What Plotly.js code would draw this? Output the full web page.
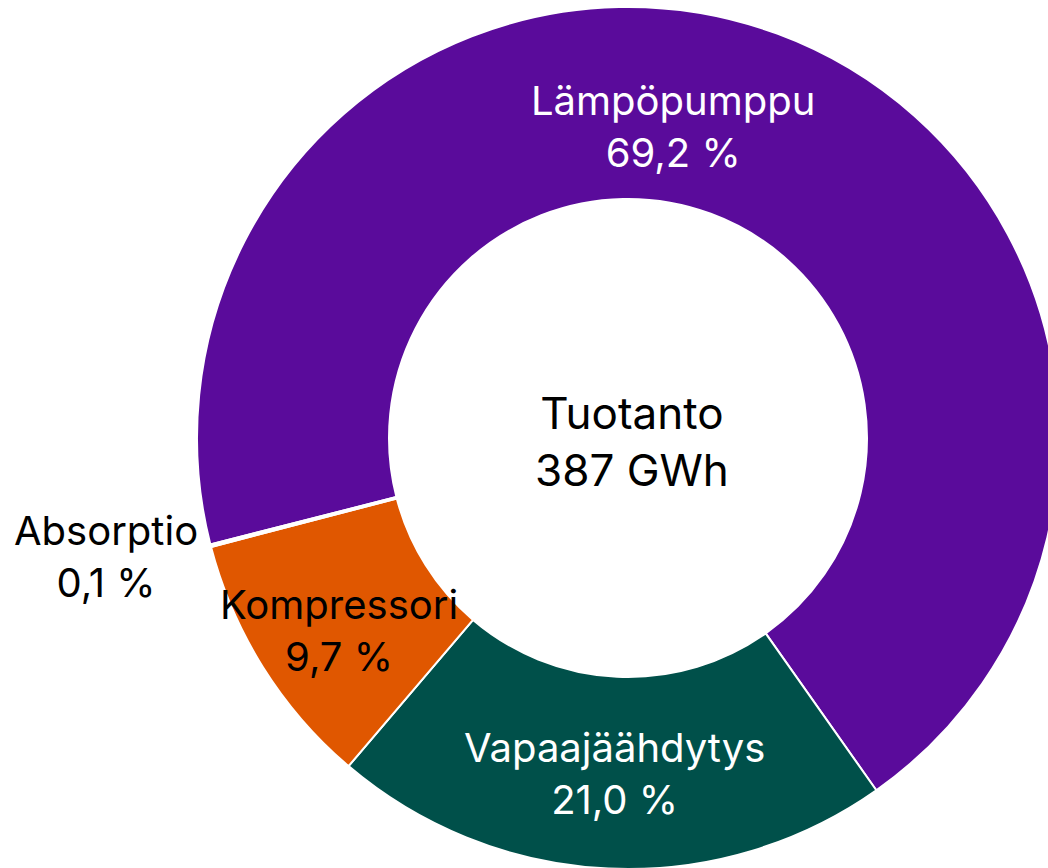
<!DOCTYPE html>
<html>
<head>
<meta charset="utf-8">
<script src="https://cdn.plot.ly/plotly-3.0.1.min.js"></script>
<style>
  html, body { margin: 0; padding: 0; width: 1048px; height: 868px; overflow: hidden; background: #ffffff; }
  #chart { position: absolute; left: 0; top: 7px; width: 1256px; height: 862px; }
</style>
</head>
<body>
<div id="chart"></div>
<script>
// ---- data ----
const categories = ['Lämpöpumppu', 'Vapaajäähdytys', 'Kompressori', 'Absorptio'];
const shares = [69.2, 21.0, 9.7, 0.1];
const centerTitle = 'Tuotanto';
const totalGWh = 387;

// ---- style ----
const colors = ['#5a0b9b', '#00504a', '#e05700', '#ffffff'];
const labelColors = ['#ffffff', '#ffffff', '#000000', '#000000'];
const fontFamily = 'Inter, "Noto Sans", sans-serif';
const fontSize = 40;
const centerFontSize = 44;
const W = 1256, H = 862, HOLE = 0.5545, ROT = 255.7;
// label placement: radius (px) and angle tweak (deg) relative to slice mid-angle
const labelRadius = [315, 336, 347, 535];
const labelAngleShift = [-12.1, -0.4, -1.5, 1.7];

function fmtPct(v) { return v.toFixed(1).replace('.', ',') + ' %'; }

const total = shares.reduce((a, b) => a + b, 0);
let cum = 0;
const annotations = categories.map((c, i) => {
  const mid = ROT + (cum + shares[i] / 2) / total * 360 + labelAngleShift[i];
  cum += shares[i];
  const a = mid * Math.PI / 180;
  const dx = labelRadius[i] * Math.sin(a);
  const dy = -labelRadius[i] * Math.cos(a);
  return {
    xref: 'paper', yref: 'paper',
    x: 0.5 + dx / W, y: 0.5 - dy / H,
    xanchor: 'center', yanchor: 'middle',
    text: c + '<br>' + fmtPct(shares[i]),
    showarrow: false,
    font: { family: fontFamily, size: fontSize, color: labelColors[i] }
  };
});
annotations.push({
  xref: 'paper', yref: 'paper', x: 0.5 + 4 / W, y: 0.5 - 3 / H,
  xanchor: 'center', yanchor: 'middle',
  text: centerTitle + '<br>' + totalGWh + ' GWh',
  showarrow: false,
  font: { family: fontFamily, size: centerFontSize, color: '#000000' }
});

const trace = {
  type: 'pie',
  labels: categories,
  values: shares,
  hole: HOLE,
  sort: false,
  direction: 'clockwise',
  rotation: ROT,
  textinfo: 'none',
  hoverinfo: 'label+percent',
  marker: { colors: colors, line: { color: '#ffffff', width: 2 } },
  showlegend: false
};

Plotly.newPlot('chart', [trace], {
  width: W, height: H,
  margin: { l: 0, r: 0, t: 0, b: 0, pad: 0 },
  paper_bgcolor: 'rgba(0,0,0,0)',
  plot_bgcolor: 'rgba(0,0,0,0)',
  showlegend: false,
  annotations: annotations
}, { displayModeBar: false, staticPlot: true });
</script>
</body>
</html>
